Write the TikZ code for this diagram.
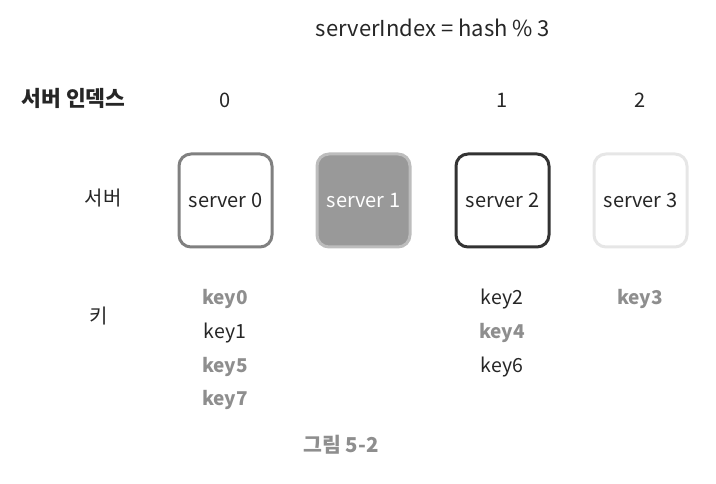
\documentclass[tikz,border=0pt]{standalone}
\usepackage{fontspec}
\setmainfont{Noto Sans CJK KR}
\definecolor{gtext}{HTML}{8E8E8E}
\definecolor{s0}{HTML}{808080}
\definecolor{s1fill}{HTML}{999999}
\definecolor{s1line}{HTML}{BDBDBD}
\definecolor{s2}{HTML}{333333}
\definecolor{s3}{HTML}{E6E6E6}
\begin{document}
\begin{tikzpicture}[x=1pt,y=-1pt,
  txt/.style={font=\fontsize{19.5}{22}\selectfont, text=black!85, inner sep=0pt},
  gkey/.style={font=\fontsize{19}{22}\selectfont\bfseries, text=gtext, inner sep=0pt},
  srv/.style={draw, line width=3pt, rounded corners=12pt, minimum width=93pt, minimum height=93pt, font=\fontsize{20}{23}\selectfont, inner sep=0pt}
]
\useasboundingbox (0,0) rectangle (716,484);
\node[txt, font=\fontsize{22}{25}\selectfont] (title) at (433,28) {serverIndex = hash \% 3};
\node[txt, font=\fontsize{21.5}{25}\selectfont\bfseries] (idxlbl) at (73.5,98) {서버 인덱스};
\node[txt, font=\fontsize{20}{23}\selectfont] (i0) at (225,100) {0};
\node[txt, font=\fontsize{20}{23}\selectfont] (i1) at (502,100) {1};
\node[txt, font=\fontsize{20}{23}\selectfont] (i2) at (640,100) {2};
\node[txt, font=\fontsize{20}{23}\selectfont] (srvlbl) at (103,198) {서버};
\node[srv, draw=s0, text=black!85] (sv0) at (225.5,200.5) {server 0};
\node[srv, draw=s1line, fill=s1fill, text=white] (sv1) at (363.5,200.5) {server 1};
\node[srv, draw=s2, text=black!85] (sv2) at (502.5,200.5) {server 2};
\node[srv, draw=s3, text=black!85] (sv3) at (640.5,200.5) {server 3};
\node[txt, font=\fontsize{20}{23}\selectfont] (keylbl) at (99,316) {키};
\node[gkey] (k0) at (225,299) {key0};
\node[txt] (k1) at (225,333) {key1};
\node[gkey] (k5) at (225,367) {key5};
\node[gkey] (k7) at (225,400) {key7};
\node[txt] (k2) at (502,299) {key2};
\node[gkey] (k4) at (502,333) {key4};
\node[txt] (k6) at (502,367) {key6};
\node[gkey] (k3) at (640,299) {key3};
\node[gkey, font=\fontsize{20.5}{24}\selectfont\bfseries] (cap) at (341,445) {그림 5-2};
\end{tikzpicture}
\end{document}
